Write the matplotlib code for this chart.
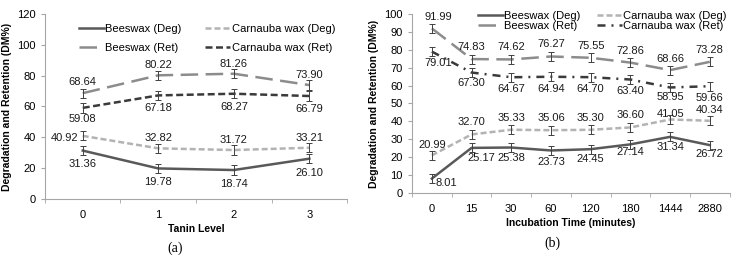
import numpy as np
import matplotlib.pyplot as plt

plt.rcParams["font.family"] = ["Liberation Sans", "DejaVu Sans"]

# ---------------------------------------------------------
# DATA
# ---------------------------------------------------------
tanin_levels = ["0", "1", "2", "3"]
a_bees_deg = [31.36, 19.78, 18.74, 26.10]
a_carn_deg = [40.92, 32.82, 31.72, 33.21]
a_bees_ret = [68.64, 80.22, 81.26, 73.90]
a_carn_ret = [59.08, 67.18, 68.27, 66.79]
a_err = [3.0, 3.0, 3.0, 3.0]

times = ["0", "15", "30", "60", "120", "180", "1444", "2880"]
b_bees_deg = [8.01, 25.17, 25.38, 23.73, 24.45, 27.14, 31.34, 26.72]
b_carn_deg = [20.99, 32.70, 35.33, 35.06, 35.30, 36.60, 41.05, 40.34]
b_bees_ret = [91.99, 74.83, 74.62, 76.27, 75.55, 72.86, 68.66, 73.28]
b_carn_ret = [79.01, 67.30, 64.67, 64.94, 64.70, 63.40, 58.95, 59.66]
b_err = [2.5, 2.5, 2.5, 2.5, 2.5, 2.5, 2.5, 2.5]

# label offsets in pixels (dx, dy)
a_offsets = {
    "bees_deg": [(0, -13), (0, -14), (0, -14), (0, -14)],
    "carn_deg": [(-18, -2), (0, 10), (0, 10), (0, 10)],
    "bees_ret": [(0, 11), (0, 10), (0, 10), (0, 10)],
    "carn_ret": [(0, -11), (0, -13), (0, -13), (0, -13)],
}
b_offsets = {
    "bees_deg": [(14, -4), (10, -10), (0, -10), (0, -12), (0, -10), (0, -8), (0, -10), (0, -9)],
    "carn_deg": [(0, 10), (0, 12), (0, 12), (0, 12), (0, 12), (0, 12), (0, 5), (0, 11)],
    "bees_ret": [(6, 11), (0, 12), (0, 12), (0, 12), (0, 12), (0, 12), (0, 11), (0, 12)],
    "carn_ret": [(6, -11), (0, -10), (0, -12), (0, -12), (0, -12), (0, -11), (0, -10), (0, -12)],
}

C_BEES_DEG = "#595959"
C_CARN_DEG = "#b3b3b3"
C_BEES_RET = "#8c8c8c"
C_CARN_RET = "#3a3a3a"
AXIS_C = "#a6a6a6"


def panel(ax, cats, series, err, offsets, ylim, ystep, carn_ret_dash, xlabel):
    x = np.arange(len(cats))
    styles = {
        "bees_deg": dict(color=C_BEES_DEG, ls="-", label="Beeswax (Deg)"),
        "carn_deg": dict(color=C_CARN_DEG, ls=(0, (2.4, 1.2)), label="Carnauba wax (Deg)"),
        "bees_ret": dict(color=C_BEES_RET, ls=(0, (7, 3)), label="Beeswax (Ret)"),
        "carn_ret": dict(color=C_CARN_RET, ls=carn_ret_dash, label="Carnauba wax (Ret)"),
    }
    handles = {}
    for key in ["bees_deg", "carn_deg", "bees_ret", "carn_ret"]:
        vals = series[key]
        st = styles[key]
        (ln,) = ax.plot(x, vals, color=st["color"], ls=st["ls"], lw=1.8,
                        label=st["label"], zorder=2)
        ax.errorbar(x, vals, yerr=err, fmt="none", ecolor="#404040",
                    elinewidth=0.7, capsize=2, capthick=0.7, zorder=3)
        handles[key] = ln
        for xi, v, (dx, dy) in zip(x, vals, offsets[key]):
            ax.annotate(f"{v:.2f}", (xi, v), xytext=(dx, dy),
                        textcoords="offset pixels", ha="center", va="center",
                        fontsize=8, color="#1a1a1a", zorder=4)
    ax.set_xlim(-0.5, len(cats) - 0.5)
    ax.set_ylim(*ylim)
    ax.set_yticks(np.arange(ylim[0], ylim[1] + 1, ystep))
    ax.set_xticks(x)
    ax.set_xticklabels(cats)
    ax.set_xticks(np.arange(len(cats) + 1) - 0.5, minor=True)
    ax.tick_params(axis="x", which="major", length=0, labelsize=8, pad=8)
    ax.tick_params(axis="x", which="minor", length=3, color=AXIS_C, direction="out")
    ax.tick_params(axis="y", length=3, color=AXIS_C, labelsize=8)
    for s in ["top", "right"]:
        ax.spines[s].set_visible(False)
    for s in ["left", "bottom"]:
        ax.spines[s].set_color(AXIS_C)
        ax.spines[s].set_linewidth(0.8)
    ax.set_xlabel(xlabel, fontsize=7.5, fontweight="bold", labelpad=3)
    ax.set_ylabel("Degradation and Retention (DM%)", fontsize=7.5,
                  fontweight="bold", labelpad=4)
    # column-wise order so rows read Deg / Deg, Ret / Ret
    order = ["bees_deg", "bees_ret", "carn_deg", "carn_ret"]
    return [handles[k] for k in order]


fig = plt.figure(figsize=(7.37, 2.6), dpi=100)
ax1 = fig.add_axes([0.061, 0.235, 0.410, 0.711])
ax2 = fig.add_axes([0.559, 0.258, 0.431, 0.688])

h1 = panel(ax1, tanin_levels,
           {"bees_deg": a_bees_deg, "carn_deg": a_carn_deg,
            "bees_ret": a_bees_ret, "carn_ret": a_carn_ret},
           a_err, a_offsets, (0, 120), 20, (0, (2.8, 1.4)), "Tanin Level")
h2 = panel(ax2, times,
           {"bees_deg": b_bees_deg, "carn_deg": b_carn_deg,
            "bees_ret": b_bees_ret, "carn_ret": b_carn_ret},
           b_err, b_offsets, (0, 100), 10, (0, (3.2, 2.4, 0.8, 2.4)),
           "Incubation Time (minutes)")

fig.legend(h1, [h.get_label() for h in h1], ncol=2, frameon=False, fontsize=8,
           loc="upper left", bbox_to_anchor=(73 / 737, 1 - 18.5 / 260),
           bbox_transform=fig.transFigure, borderpad=0, handlelength=2.25,
           columnspacing=2.2, labelspacing=0.83, handletextpad=0.1)
fig.legend(h2, [h.get_label() for h in h2], ncol=2, frameon=False, fontsize=8,
           loc="upper left", bbox_to_anchor=(472 / 737, 1 - 5 / 260),
           bbox_transform=fig.transFigure, borderpad=0, handlelength=2.25,
           columnspacing=1.5, labelspacing=0.02, handletextpad=0.1)

fig.text(175 / 737, 1 - 248 / 260, "(a)", ha="center", va="center",
         fontsize=10, family="Liberation Serif")
fig.text(552 / 737, 1 - 243 / 260, "(b)", ha="center", va="center",
         fontsize=10, family="Liberation Serif")

fig.savefig("out.png", dpi=100)
